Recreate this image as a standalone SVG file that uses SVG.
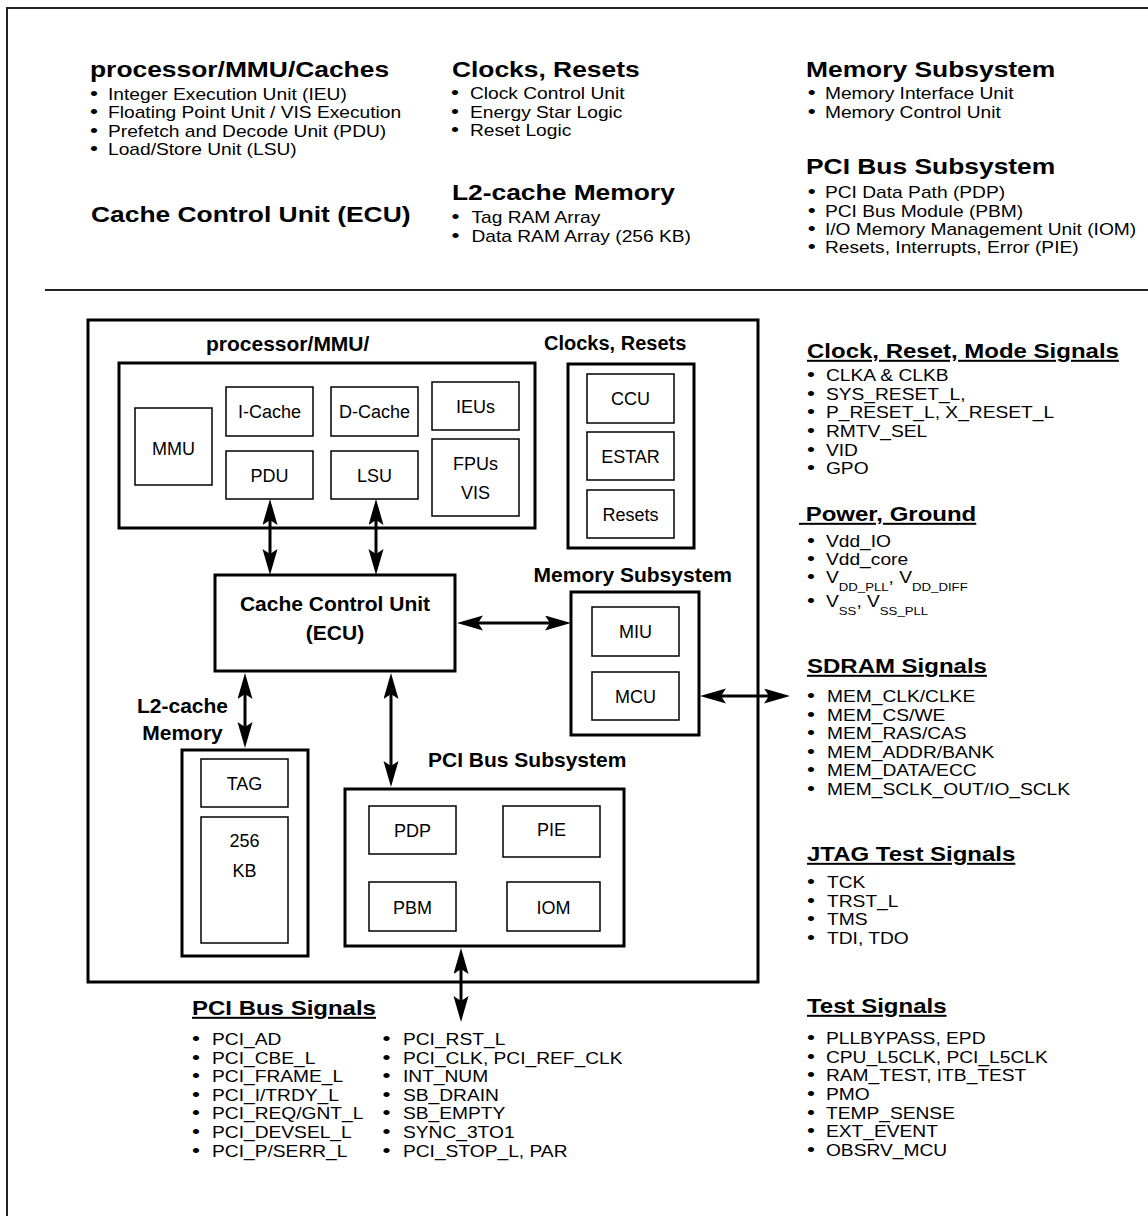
<svg xmlns="http://www.w3.org/2000/svg" width="1148" height="1216" viewBox="0 0 1148 1216">
<defs>
<style>
text{font-family:"Liberation Sans",Arial,Helvetica,sans-serif;fill:#000}
.h{font-size:22px;font-weight:bold}
.sh{font-size:20px;font-weight:bold;text-decoration:underline}
.b{font-size:16px}
.d{font-size:19px}
.sub{font-size:11px}
.lbl{font-size:18px;text-anchor:middle}
.bl{font-size:21px;font-weight:bold}
.frame{fill:none;stroke:#222;stroke-width:2}
.thick{fill:none;stroke:#000;stroke-width:3}
.thin{fill:none;stroke:#000;stroke-width:1.5}
.conn{fill:none;stroke:#000;stroke-width:3;marker-start:url(#ah);marker-end:url(#ah)}
</style>
<marker id="ah" markerUnits="userSpaceOnUse" viewBox="0 0 28 16" markerWidth="28" markerHeight="16" refX="16" refY="7.5" orient="auto-start-reverse">
<path d="M0,0 L26,7.5 L0,15 L5,7.5 z" fill="#000"/>
</marker>
</defs>
<rect width="1148" height="1216" fill="#fff"/>

<g id="frame">
<path class="frame" d="M7,1216 V8 H1148"/>
<line x1="45" y1="290" x2="1148" y2="290" stroke="#222" stroke-width="2"/>
</g>

<!-- Top legend -->
<g id="legend-processor" transform="translate(90,77) scale(1.2,1)">
<text class="h">processor/MMU/Caches</text>
<text class="b" y="23"><tspan class="d" x="0">•</tspan><tspan x="15">Integer Execution Unit (IEU)</tspan></text>
<text class="b" y="41.3"><tspan class="d" x="0">•</tspan><tspan x="15">Floating Point Unit / VIS Execution</tspan></text>
<text class="b" y="59.6"><tspan class="d" x="0">•</tspan><tspan x="15">Prefetch and Decode Unit (PDU)</tspan></text>
<text class="b" y="78"><tspan class="d" x="0">•</tspan><tspan x="15">Load/Store Unit (LSU)</tspan></text>
</g>
<g id="legend-ecu" transform="translate(91,222) scale(1.2,1)">
<text class="h">Cache Control Unit (ECU)</text>
</g>
<g id="legend-clocks" transform="translate(451,77) scale(1.2,1)">
<text class="h" x="0.8">Clocks, Resets</text>
<text class="b" y="22"><tspan class="d" x="0">•</tspan><tspan x="15.8">Clock Control Unit</tspan></text>
<text class="b" y="40.7"><tspan class="d" x="0">•</tspan><tspan x="15.8">Energy Star Logic</tspan></text>
<text class="b" y="59.4"><tspan class="d" x="0">•</tspan><tspan x="15.8">Reset Logic</tspan></text>
</g>
<g id="legend-l2" transform="translate(451,200) scale(1.2,1)">
<text class="h" x="0.8">L2-cache Memory</text>
<text class="b" y="23"><tspan class="d" x="0.5">•</tspan><tspan x="17">Tag RAM Array</tspan></text>
<text class="b" y="42"><tspan class="d" x="0.5">•</tspan><tspan x="17">Data RAM Array (256 KB)</tspan></text>
</g>
<g id="legend-memory" transform="translate(806,77) scale(1.2,1)">
<text class="h">Memory Subsystem</text>
<text class="b" y="22"><tspan class="d" x="1.5">•</tspan><tspan x="15.8">Memory Interface Unit</tspan></text>
<text class="b" y="41"><tspan class="d" x="1.5">•</tspan><tspan x="15.8">Memory Control Unit</tspan></text>
</g>
<g id="legend-pci" transform="translate(806,174) scale(1.2,1)">
<text class="h">PCI Bus Subsystem</text>
<text class="b" y="24"><tspan class="d" x="1.5">•</tspan><tspan x="15.8">PCI Data Path (PDP)</tspan></text>
<text class="b" y="43"><tspan class="d" x="1.5">•</tspan><tspan x="15.8">PCI Bus Module (PBM)</tspan></text>
<text class="b" y="61.5"><tspan class="d" x="1.5">•</tspan><tspan x="15.8">I/O Memory Management Unit (IOM)</tspan></text>
<text class="b" y="79.5"><tspan class="d" x="1.5">•</tspan><tspan x="15.8">Resets, Interrupts, Error (PIE)</tspan></text>
</g>

<!-- Chip -->
<g id="chip">
<rect class="thick" x="88" y="320" width="670" height="662"/>
</g>

<g id="node-processor">
<text class="bl" x="206" y="351">processor/MMU/</text>
<rect class="thick" x="119" y="363" width="416" height="165"/>
<g id="node-mmu"><rect class="thin" x="135" y="408" width="77" height="77"/><text class="lbl" x="173.5" y="455">MMU</text></g>
<g id="node-icache"><rect class="thin" x="226" y="387" width="87" height="49"/><text class="lbl" x="269.5" y="418">I-Cache</text></g>
<g id="node-dcache"><rect class="thin" x="331" y="387" width="87" height="49"/><text class="lbl" x="374.5" y="418">D-Cache</text></g>
<g id="node-ieus"><rect class="thin" x="432" y="382" width="87" height="48"/><text class="lbl" x="475.5" y="413">IEUs</text></g>
<g id="node-pdu"><rect class="thin" x="226" y="451" width="87" height="48"/><text class="lbl" x="269.5" y="482">PDU</text></g>
<g id="node-lsu"><rect class="thin" x="331" y="451" width="87" height="48"/><text class="lbl" x="374.5" y="482">LSU</text></g>
<g id="node-fpus"><rect class="thin" x="432" y="439" width="87" height="77"/><text class="lbl" x="475.5" y="470">FPUs</text><text class="lbl" x="475.5" y="499">VIS</text></g>
</g>

<g id="node-clocks">
<text class="bl" x="544" y="350" style="font-size:20px">Clocks, Resets</text>
<rect class="thick" x="568" y="364" width="126" height="184"/>
<g id="node-ccu"><rect class="thin" x="587" y="374" width="87" height="49"/><text class="lbl" x="630.5" y="405">CCU</text></g>
<g id="node-estar"><rect class="thin" x="587" y="432" width="87" height="48"/><text class="lbl" x="630.5" y="463">ESTAR</text></g>
<g id="node-resets"><rect class="thin" x="587" y="490" width="87" height="48"/><text class="lbl" x="630.5" y="521">Resets</text></g>
</g>

<g id="node-ecu">
<rect class="thick" x="215" y="575" width="240" height="96"/>
<text class="bl" x="335" y="611" text-anchor="middle">Cache Control Unit</text>
<text class="bl" x="335" y="640" text-anchor="middle">(ECU)</text>
</g>

<g id="node-memory">
<text class="bl" x="732" y="582" text-anchor="end">Memory Subsystem</text>
<rect class="thick" x="571" y="592" width="128" height="143"/>
<g id="node-miu"><rect class="thin" x="592" y="607" width="87" height="49"/><text class="lbl" x="635.5" y="638">MIU</text></g>
<g id="node-mcu"><rect class="thin" x="592" y="672" width="87" height="48"/><text class="lbl" x="635.5" y="703">MCU</text></g>
</g>

<g id="node-l2">
<text class="bl" x="182.5" y="713" text-anchor="middle">L2-cache</text>
<text class="bl" x="182.5" y="740" text-anchor="middle">Memory</text>
<rect class="thick" x="182" y="750" width="126" height="206"/>
<g id="node-tag"><rect class="thin" x="201" y="759" width="87" height="48"/><text class="lbl" x="244.5" y="790">TAG</text></g>
<g id="node-data"><rect class="thin" x="201" y="817" width="87" height="126"/><text class="lbl" x="244.5" y="847">256</text><text class="lbl" x="244.5" y="877">KB</text></g>
</g>

<g id="node-pcibus">
<text class="bl" x="428" y="767">PCI Bus Subsystem</text>
<rect class="thick" x="345" y="789" width="279" height="157"/>
<g id="node-pdp"><rect class="thin" x="369" y="806" width="87" height="48"/><text class="lbl" x="412.5" y="837">PDP</text></g>
<g id="node-pie"><rect class="thin" x="503" y="806" width="97" height="51"/><text class="lbl" x="551.5" y="836">PIE</text></g>
<g id="node-pbm"><rect class="thin" x="369" y="882" width="87" height="49"/><text class="lbl" x="412.5" y="914">PBM</text></g>
<g id="node-iom"><rect class="thin" x="507" y="882" width="93" height="49"/><text class="lbl" x="553.5" y="914">IOM</text></g>
</g>

<g id="connectors">
<line class="conn" x1="270" y1="509" x2="270" y2="565"/>
<line class="conn" x1="376" y1="509" x2="376" y2="565"/>
<line class="conn" x1="467" y1="623" x2="561" y2="623"/>
<line class="conn" x1="245" y1="683" x2="245" y2="738"/>
<line class="conn" x1="391" y1="683" x2="391" y2="777"/>
<line class="conn" x1="710" y1="696" x2="780" y2="696"/>
<line class="conn" x1="461" y1="958" x2="461" y2="1012"/>
</g>

<!-- Signal lists -->
<g id="sig-clock" transform="translate(807,358) scale(1.2,1)">
<text class="sh">Clock, Reset, Mode Signals</text>
<text class="b" y="23"><tspan class="d" x="0">•</tspan><tspan x="15.8">CLKA &amp; CLKB</tspan></text>
<text class="b" y="41.7"><tspan class="d" x="0">•</tspan><tspan x="15.8">SYS_RESET_L,</tspan></text>
<text class="b" y="60.4"><tspan class="d" x="0">•</tspan><tspan x="15.8">P_RESET_L, X_RESET_L</tspan></text>
<text class="b" y="79.1"><tspan class="d" x="0">•</tspan><tspan x="15.8">RMTV_SEL</tspan></text>
<text class="b" y="97.8"><tspan class="d" x="0">•</tspan><tspan x="15.8">VID</tspan></text>
<text class="b" y="116.5"><tspan class="d" x="0">•</tspan><tspan x="15.8">GPO</tspan></text>
</g>
<g id="sig-power" transform="translate(799,521) scale(1.2,1)">
<text class="sh">&#160;Power, Ground</text>
<text class="b" y="26"><tspan class="d" x="6.7">•</tspan><tspan x="22.5">Vdd_IO</tspan></text>
<text class="b" y="44.5"><tspan class="d" x="6.7">•</tspan><tspan x="22.5">Vdd_core</tspan></text>
<text class="b" y="62"><tspan class="d" x="6.7">•</tspan><tspan x="22.5">V</tspan><tspan class="sub" dy="8">DD_PLL</tspan><tspan dy="-8">, V</tspan><tspan class="sub" dy="8">DD_DIFF</tspan></text>
<text class="b" y="86"><tspan class="d" x="6.7">•</tspan><tspan x="22.5">V</tspan><tspan class="sub" dy="8">SS</tspan><tspan dy="-8">, V</tspan><tspan class="sub" dy="8">SS_PLL</tspan></text>
</g>
<g id="sig-sdram" transform="translate(807,673) scale(1.2,1)">
<text class="sh">SDRAM Signals</text>
<text class="b" y="29"><tspan class="d" x="0">•</tspan><tspan x="16.7">MEM_CLK/CLKE</tspan></text>
<text class="b" y="47.6"><tspan class="d" x="0">•</tspan><tspan x="16.7">MEM_CS/WE</tspan></text>
<text class="b" y="66.2"><tspan class="d" x="0">•</tspan><tspan x="16.7">MEM_RAS/CAS</tspan></text>
<text class="b" y="84.8"><tspan class="d" x="0">•</tspan><tspan x="16.7">MEM_ADDR/BANK</tspan></text>
<text class="b" y="103.4"><tspan class="d" x="0">•</tspan><tspan x="16.7">MEM_DATA/ECC</tspan></text>
<text class="b" y="122"><tspan class="d" x="0">•</tspan><tspan x="16.7">MEM_SCLK_OUT/IO_SCLK</tspan></text>
</g>
<g id="sig-jtag" transform="translate(807,861) scale(1.2,1)">
<text class="sh">JTAG Test Signals</text>
<text class="b" y="27"><tspan class="d" x="0">•</tspan><tspan x="16.7">TCK</tspan></text>
<text class="b" y="45.7"><tspan class="d" x="0">•</tspan><tspan x="16.7">TRST_L</tspan></text>
<text class="b" y="64.4"><tspan class="d" x="0">•</tspan><tspan x="16.7">TMS</tspan></text>
<text class="b" y="83.1"><tspan class="d" x="0">•</tspan><tspan x="16.7">TDI, TDO</tspan></text>
</g>
<g id="sig-test" transform="translate(807,1013) scale(1.2,1)">
<text class="sh">Test Signals</text>
<text class="b" y="31"><tspan class="d" x="0">•</tspan><tspan x="15.8">PLLBYPASS, EPD</tspan></text>
<text class="b" y="49.7"><tspan class="d" x="0">•</tspan><tspan x="15.8">CPU_L5CLK, PCI_L5CLK</tspan></text>
<text class="b" y="68.4"><tspan class="d" x="0">•</tspan><tspan x="15.8">RAM_TEST, ITB_TEST</tspan></text>
<text class="b" y="87.1"><tspan class="d" x="0">•</tspan><tspan x="15.8">PMO</tspan></text>
<text class="b" y="105.8"><tspan class="d" x="0">•</tspan><tspan x="15.8">TEMP_SENSE</tspan></text>
<text class="b" y="124.5"><tspan class="d" x="0">•</tspan><tspan x="15.8">EXT_EVENT</tspan></text>
<text class="b" y="143.2"><tspan class="d" x="0">•</tspan><tspan x="15.8">OBSRV_MCU</tspan></text>
</g>
<g id="sig-pci" transform="translate(192,1015) scale(1.2,1)">
<text class="sh">PCI Bus Signals</text>
<text class="b" y="30"><tspan class="d" x="0">•</tspan><tspan x="16.7">PCI_AD</tspan><tspan class="d" x="158.8">•</tspan><tspan x="175.8">PCI_RST_L</tspan></text>
<text class="b" y="48.6"><tspan class="d" x="0">•</tspan><tspan x="16.7">PCI_CBE_L</tspan><tspan class="d" x="158.8">•</tspan><tspan x="175.8">PCI_CLK, PCI_REF_CLK</tspan></text>
<text class="b" y="67.2"><tspan class="d" x="0">•</tspan><tspan x="16.7">PCI_FRAME_L</tspan><tspan class="d" x="158.8">•</tspan><tspan x="175.8">INT_NUM</tspan></text>
<text class="b" y="85.8"><tspan class="d" x="0">•</tspan><tspan x="16.7">PCI_I/TRDY_L</tspan><tspan class="d" x="158.8">•</tspan><tspan x="175.8">SB_DRAIN</tspan></text>
<text class="b" y="104.4"><tspan class="d" x="0">•</tspan><tspan x="16.7">PCI_REQ/GNT_L</tspan><tspan class="d" x="158.8">•</tspan><tspan x="175.8">SB_EMPTY</tspan></text>
<text class="b" y="123"><tspan class="d" x="0">•</tspan><tspan x="16.7">PCI_DEVSEL_L</tspan><tspan class="d" x="158.8">•</tspan><tspan x="175.8">SYNC_3TO1</tspan></text>
<text class="b" y="141.6"><tspan class="d" x="0">•</tspan><tspan x="16.7">PCI_P/SERR_L</tspan><tspan class="d" x="158.8">•</tspan><tspan x="175.8">PCI_STOP_L, PAR</tspan></text>
</g>
</svg>
